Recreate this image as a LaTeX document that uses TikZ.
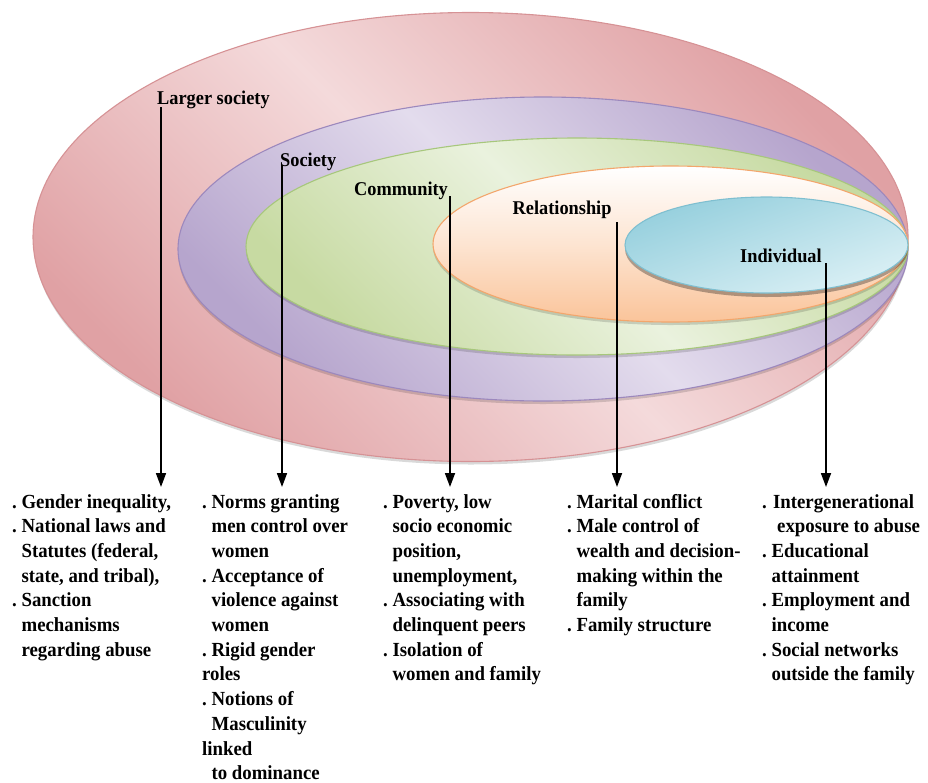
\documentclass[tikz,border=0pt]{standalone}
\usepackage{fontspec}
\setmainfont{Liberation Serif}[FakeStretch=0.94]
\usetikzlibrary{arrows.meta}
\definecolor{redA}{HTML}{E0A1A4}
\definecolor{redB}{HTML}{F4DADB}
\definecolor{redE}{HTML}{D69295}
\definecolor{purA}{HTML}{B6A5CD}
\definecolor{purB}{HTML}{E3DCED}
\definecolor{purE}{HTML}{9C88BD}
\definecolor{grnA}{HTML}{C7DAA2}
\definecolor{grnB}{HTML}{EAF2DE}
\definecolor{grnE}{HTML}{A7C77C}
\definecolor{orgB}{HTML}{FAC49A}
\definecolor{orgE}{HTML}{F3A66C}
\definecolor{bluA}{HTML}{DBF0F5}
\definecolor{bluB}{HTML}{95CFDD}
\definecolor{bluE}{HTML}{7FBFD0}
\begin{document}
\begin{tikzpicture}[x=1pt,y=-1pt,
  lab/.style={font=\fontsize{19.5}{22}\selectfont\bfseries, inner sep=0pt, anchor=base west},
  col/.style={font=\fontsize{20}{24.7}\selectfont\bfseries, inner sep=0pt, anchor=base west},
  arr/.style={line width=1.7pt, -{Triangle[width=10pt,length=14pt]}},
  ring/.style={line width=1.1pt},
  shadowring/.style={fill=black, opacity=0.15}]
\useasboundingbox (0,0) rectangle (928,782);
% outer: Larger society
\fill[shadowring] (471,240) ellipse [x radius=437.5pt, y radius=224.5pt];
\draw[ring, draw=redE, top color=redA, bottom color=redA, middle color=redB, shading angle=-45]
  (470.5,237) ellipse [x radius=437.5pt, y radius=224.5pt];
% Society
\fill[shadowring] (543,252) ellipse [x radius=365pt, y radius=152pt];
\draw[ring, draw=purE, top color=purA, bottom color=purA, middle color=purB, shading angle=-45]
  (543,249) ellipse [x radius=365pt, y radius=152pt];
% Community
\fill[shadowring] (577,249.5) ellipse [x radius=331pt, y radius=108.5pt];
\draw[ring, draw=grnE, top color=grnA, bottom color=grnA, middle color=grnB, shading angle=-45]
  (577,246.5) ellipse [x radius=331pt, y radius=108.5pt];
% Relationship
\fill[shadowring] (670.5,247) ellipse [x radius=237.5pt, y radius=78pt];
\draw[ring, draw=orgE, top color=white, bottom color=orgB, middle color=white!55!orgB]
  (670.5,244) ellipse [x radius=237.5pt, y radius=78pt];
% Individual
\fill[fill=black, opacity=0.3] (766.5,249) ellipse [x radius=141.5pt, y radius=48pt];
\draw[ring, draw=bluE, top color=bluA, bottom color=bluB, shading angle=-160]
  (766.5,245) ellipse [x radius=141.5pt, y radius=48pt];

% labels
\node[lab] (lsoc) at (157,104) {Larger society};
\node[lab] (soc) at (280,166) {Society};
\node[lab] (com) at (354,195) {Community};
\node[lab] (rel) at (512.5,214) {Relationship};
\node[lab] (ind) at (740,262) {Individual};

% connectors
\coordinate (s1) at (161,107);   \coordinate (e1) at (161,487);
\coordinate (s2) at (282,165);   \coordinate (e2) at (282,487);
\coordinate (s3) at (450,196);   \coordinate (e3) at (450,487);
\coordinate (s4) at (617,222);   \coordinate (e4) at (617,487);
\coordinate (s5) at (826,263);   \coordinate (e5) at (826,487);
\draw[arr] (s1) -- (e1);
\draw[arr] (s2) -- (e2);
\draw[arr] (s3) -- (e3);
\draw[arr] (s4) -- (e4);
\draw[arr] (s5) -- (e5);

% text columns
\node[col] (c1) at (12,508) {\begin{tabular}[t]{@{}l@{}}
.\ Gender inequality,\\
.\ National laws and\\
\phantom{.}\ Statutes (federal,\\
\phantom{.}\ state, and tribal),\\
.\ Sanction\\
\phantom{.}\ mechanisms\\
\phantom{.}\ regarding abuse
\end{tabular}};
\node[col] (c2) at (202,508) {\begin{tabular}[t]{@{}l@{}}
.\ Norms granting\\
\phantom{.}\ men control over\\
\phantom{.}\ women\\
.\ Acceptance of\\
\phantom{.}\ violence against\\
\phantom{.}\ women\\
.\ Rigid gender\\
roles\\
.\ Notions of\\
\phantom{.}\ Masculinity\\
linked\\
\phantom{.}\ to dominance
\end{tabular}};
\node[col] (c3) at (383,508) {\begin{tabular}[t]{@{}l@{}}
.\ Poverty, low\\
\phantom{.}\ socio economic\\
\phantom{.}\ position,\\
\phantom{.}\ unemployment,\\
.\ Associating with\\
\phantom{.}\ delinquent peers\\
.\ Isolation of\\
\phantom{.}\ women and family
\end{tabular}};
\node[col] (c4) at (567,508) {\begin{tabular}[t]{@{}l@{}}
.\ Marital conflict\\
.\ Male control of\\
\phantom{.}\ wealth and decision-\\
\phantom{.}\ making within the\\
\phantom{.}\ family\\
.\ Family structure
\end{tabular}};
\node[col] (c5) at (762,508) {\begin{tabular}[t]{@{}l@{}}
.\ \hspace{1.5pt}Intergenerational\\
\hspace*{15pt}exposure to abuse\\
.\ Educational\\
\phantom{.}\ attainment\\
.\ Employment and\\
\phantom{.}\ income\\
.\ Social networks\\
\phantom{.}\ outside the family
\end{tabular}};
\end{tikzpicture}
\end{document}
